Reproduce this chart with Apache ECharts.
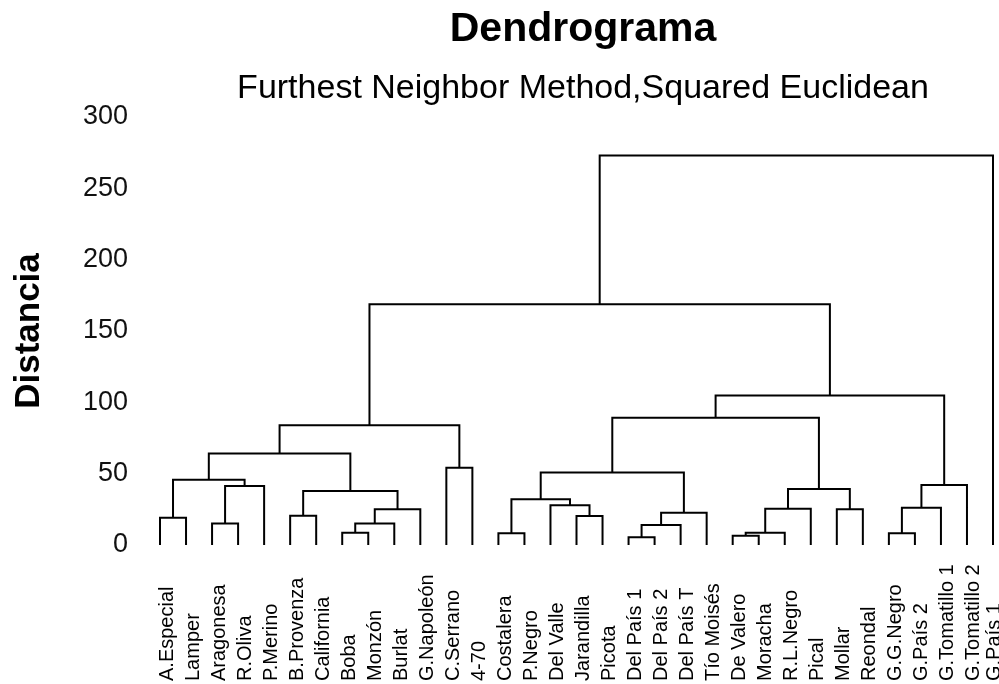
<!DOCTYPE html>
<html>
  <head>
    <meta charset="utf-8" />
    <title>Dendrograma</title>
    <script src="https://cdn.jsdelivr.net/npm/echarts@6/dist/echarts.min.js"></script>
  </head>
  <body style="margin: 0">
    <div id="main" style="width: 999px; height: 684px"></div>
    <script type="text/javascript">
      // hojas del dendrograma, en el orden del eje
      var leaves = [
        "A.Especial", "Lamper", "Aragonesa", "R.Oliva", "P.Merino",
        "B.Provenza", "California", "Boba", "Monzón", "Burlat",
        "G.Napoleón", "C.Serrano", "4-70", "Costalera", "P.Negro",
        "Del Valle", "Jarandilla", "Picota", "Del País 1", "Del País 2",
        "Del País T", "Tío Moisés", "De Valero", "Moracha", "R.L.Negro",
        "Pical", "Mollar", "Reondal", "G.G.Negro", "G.País 2",
        "G.Tomatillo 1", "G.Tomatillo 2", "G.País 1"
      ];

      // uniones: indices < 33 son hojas, >= 33 son uniones anteriores (33 + k)
      var mergeLeft = [0, 2, 34, 33, 5, 7, 38, 39, 37, 36, 11, 42, 13, 16, 15, 45, 18, 49, 50, 48, 22, 53, 54, 26, 55, 52, 28, 59, 60, 58, 44, 63];
      var mergeRight = [1, 3, 4, 35, 6, 8, 9, 10, 40, 41, 12, 43, 14, 17, 46, 47, 19, 20, 21, 51, 23, 24, 25, 27, 56, 57, 29, 30, 31, 61, 62, 32];
      var mergeHeight = [19.1, 15.0, 41.3, 45.8, 20.5, 8.6, 15.0, 25.0, 37.8, 64.2, 54.1, 84.0,
        8.2, 20.3, 27.8, 32.0, 5.4, 14.0, 22.6, 50.9, 6.5, 8.6, 25.4, 25.0, 39.2, 89.2,
        8.2, 26.1, 42.0, 104.8, 168.8, 273.1];

      var yMin = 0, yMax = 300, yStep = 50;

      // posición de cada nodo: hojas en su índice, uniones en el punto medio
      var nodeX = leaves.map(function (_, i) { return i; });
      var nodeH = leaves.map(function () { return 0; });
      var links = [];
      for (var k = 0; k < mergeHeight.length; k++) {
        var a = mergeLeft[k], b = mergeRight[k];
        links.push([nodeX[a], nodeH[a], nodeX[b], nodeH[b], mergeHeight[k]]);
        nodeX.push((nodeX[a] + nodeX[b]) / 2);
        nodeH.push(mergeHeight[k]);
      }

      var myChart = echarts.init(document.getElementById("main"));
      var font = "Liberation Sans";

      var option = {
        backgroundColor: "#fff",
        animation: false,
        title: [
          {
            text: "Dendrograma",
            left: 578,
            top: 4,
            textAlign: "center",
            textStyle: { fontFamily: font, fontSize: 41, fontWeight: "bold", color: "#000" },
          },
          {
            text: "Furthest Neighbor Method,Squared Euclidean",
            left: 578,
            top: 67,
            textAlign: "center",
            textStyle: { fontFamily: font, fontSize: 34, fontWeight: "normal", color: "#000" },
          },
        ],
        grid: { left: 160, right: 6, top: 117, bottom: 139, containLabel: false, outerBoundsMode: "none" },
        xAxis: {
          type: "value",
          min: 0,
          max: leaves.length - 1,
          interval: 1,
          axisLine: { show: false },
          axisTick: { show: false },
          splitLine: { show: false },
          axisLabel: {
            rotate: 90,
            align: "left",
            verticalAlign: "top",
            lineHeight: 14,
            margin: 136,
            fontFamily: font,
            fontSize: 20,
            color: "#000",
            formatter: function (v) {
              var name = leaves[v] || "";
              // la última etiqueta queda pegada al borde derecho
              return v === leaves.length - 1 ? "{e|" + name + "}" : name;
            },
            rich: {
              e: { lineHeight: 2, fontFamily: font, fontSize: 20, color: "#000" },
            },
          },
        },
        yAxis: {
          type: "value",
          min: yMin,
          max: yMax,
          interval: yStep,
          name: "Distancia",
          nameLocation: "middle",
          nameRotate: 90,
          nameGap: 113,
          nameTextStyle: { fontFamily: font, fontSize: 35, fontWeight: "bold", color: "#000" },
          axisLine: { show: false },
          axisTick: { show: false },
          splitLine: { show: false },
          axisLabel: { margin: 32, fontFamily: font, fontSize: 27, color: "#111" },
        },
        series: [
          {
            type: "custom",
            clip: false,
            encode: { x: [0, 2], y: [1, 3, 4] },
            data: links,
            renderItem: function (params, api) {
              var p1 = api.coord([api.value(0), api.value(1)]);
              var p2 = api.coord([api.value(0), api.value(4)]);
              var p3 = api.coord([api.value(2), api.value(4)]);
              var p4 = api.coord([api.value(2), api.value(3)]);
              return {
                type: "polyline",
                shape: { points: [p1, p2, p3, p4] },
                style: { stroke: "#000", lineWidth: 2, fill: "none" },
              };
            },
          },
        ],
      };
      myChart.setOption(option);
    </script>
  </body>
</html>
